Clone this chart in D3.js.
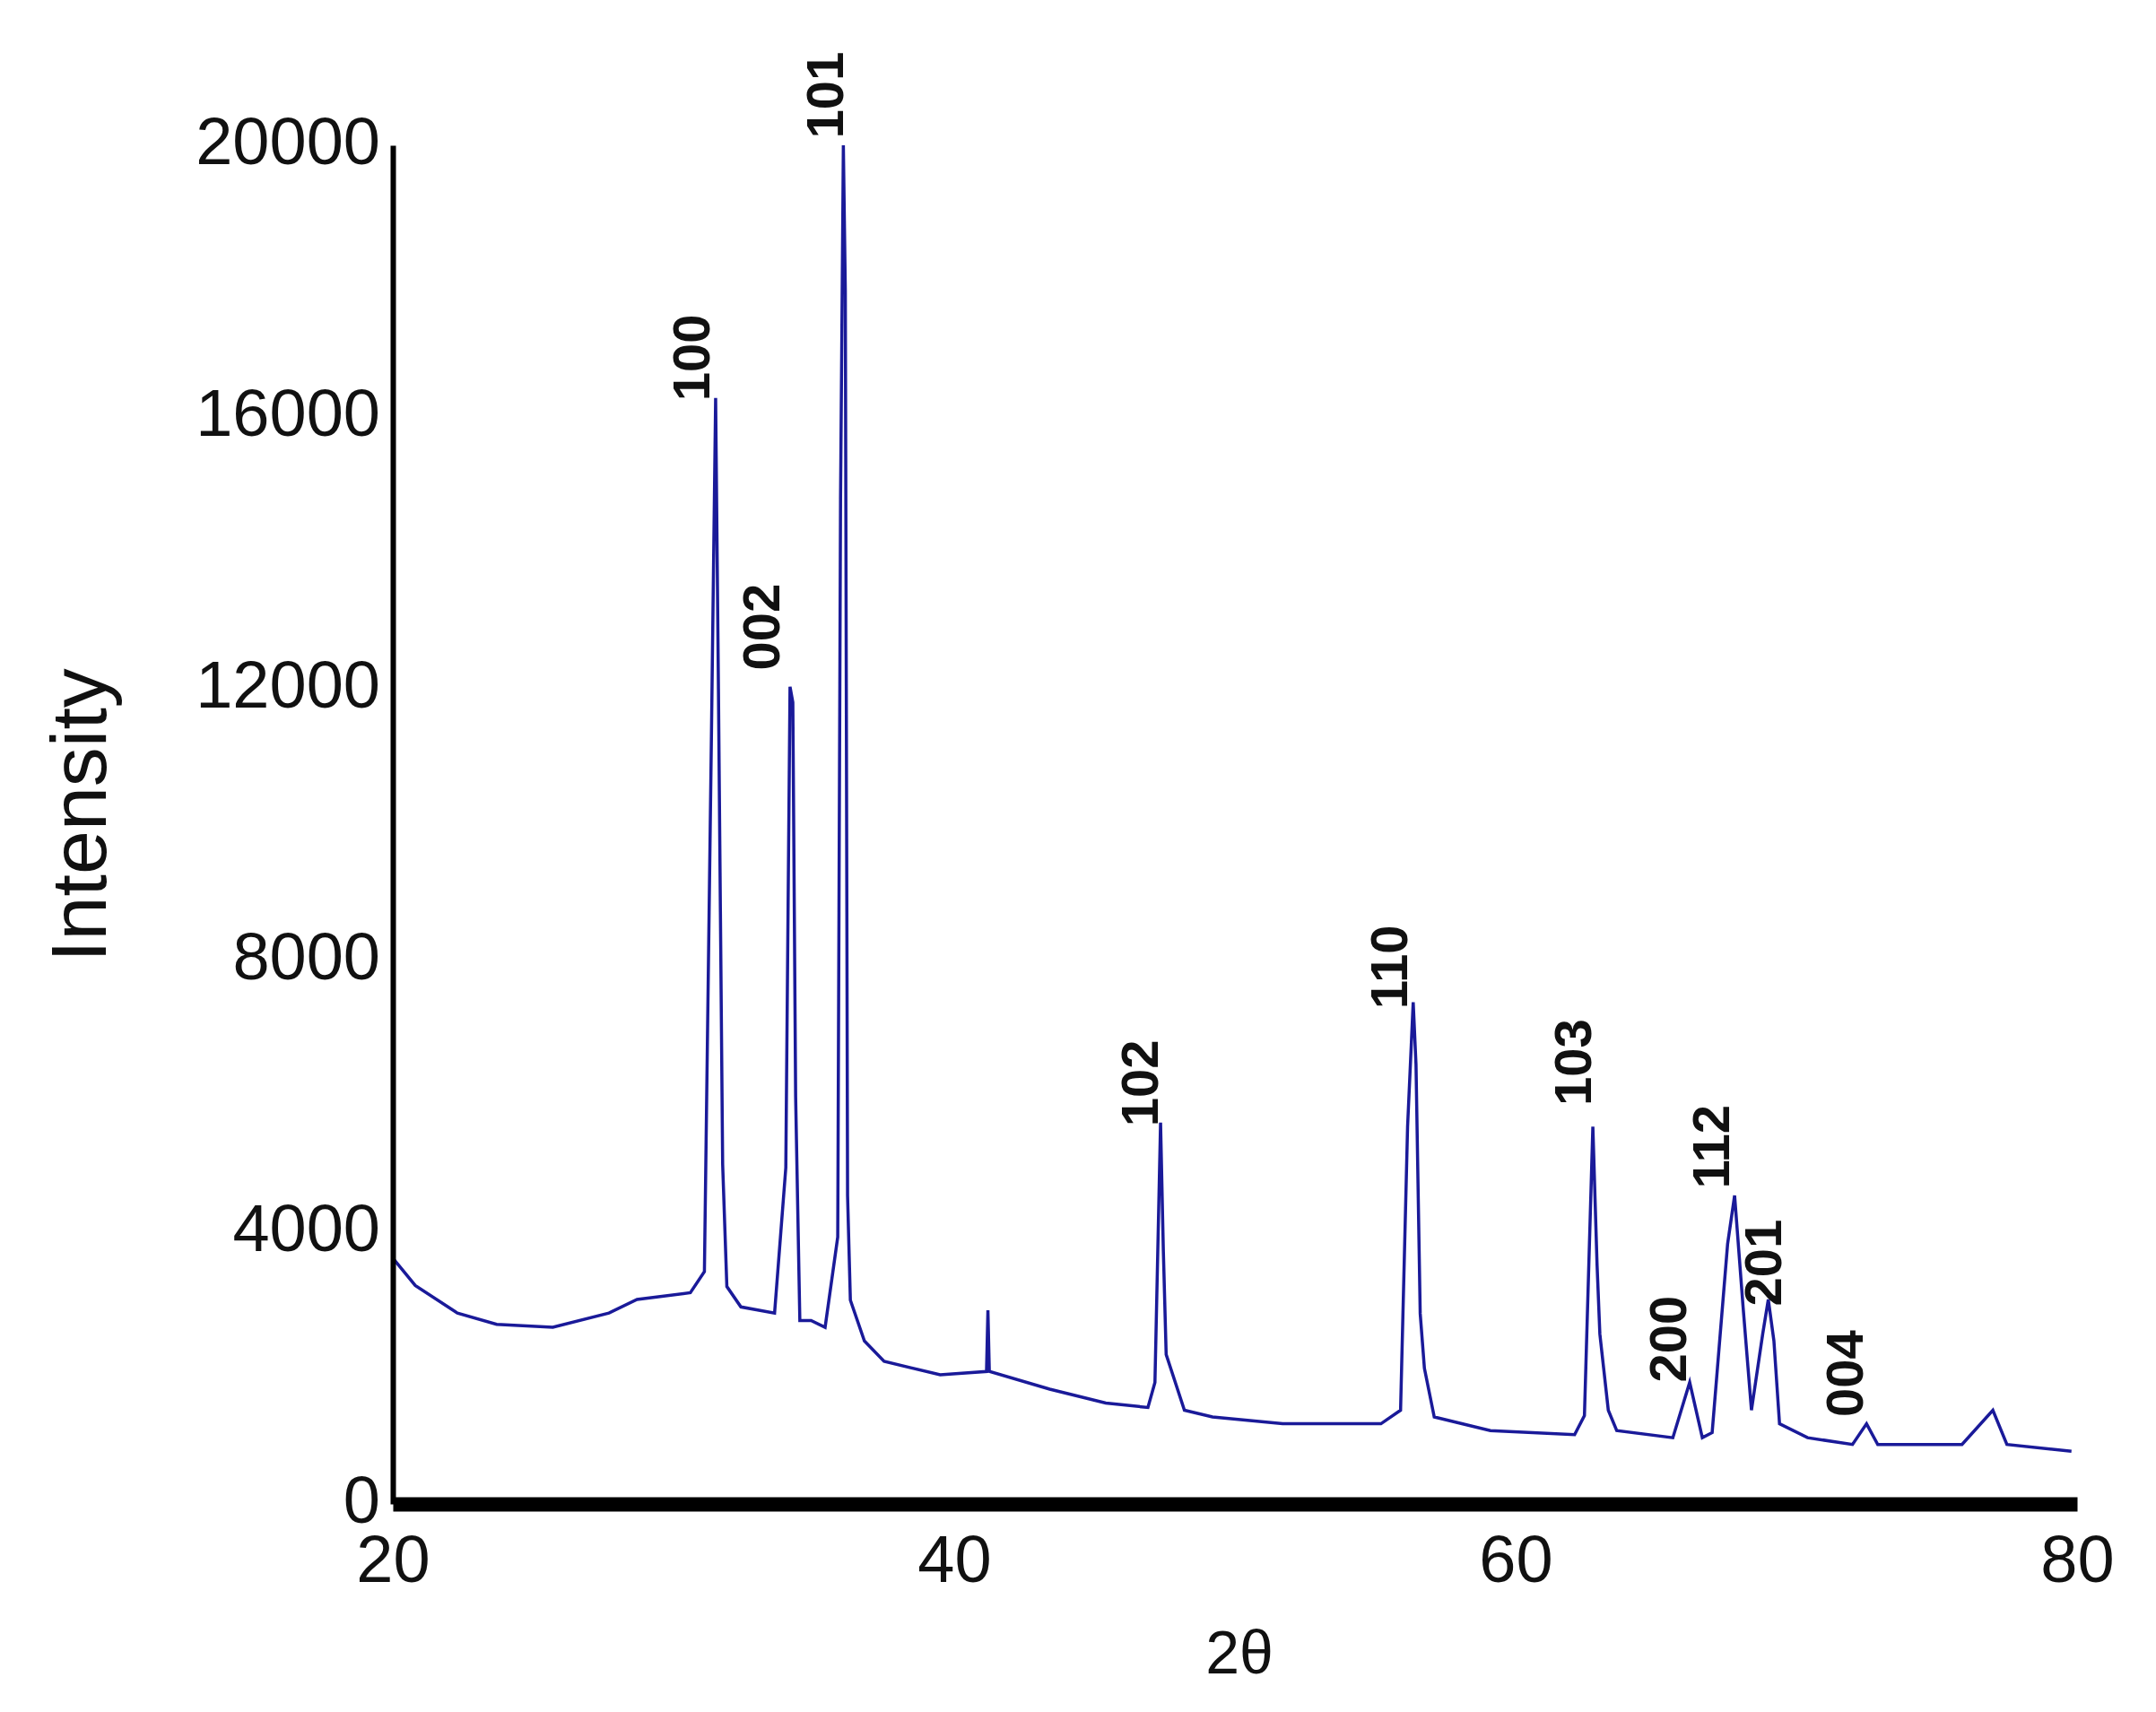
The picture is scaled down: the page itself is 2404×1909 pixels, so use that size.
<!DOCTYPE html>
<html>
<head>
<meta charset="utf-8">
<script src="https://cdn.jsdelivr.net/npm/d3@7"></script>
<style>
  body { margin: 0; background: #fff; }
</style>
</head>
<body>
<div id="display"></div>
<script>
// diffraction pattern
const twoTheta = [20, 20.8, 22.3, 23.7, 25.7, 27.7, 28.7, 30.6, 31.1, 31.35, 31.5, 31.6, 31.75, 31.9, 32.4, 33.6, 34.0, 34.15, 34.25, 34.35, 34.5, 34.9, 35.4, 35.85, 35.95, 36.05, 36.12, 36.2, 36.3, 36.8, 37.5, 39.5, 41.15, 41.2, 41.25, 43.4, 45.4, 46.9, 47.15, 47.35, 47.45, 47.55, 48.2, 49.2, 51.7, 55.2, 55.9, 56.15, 56.35, 56.45, 56.6, 56.75, 57.1, 59.1, 62.1, 62.45, 62.75, 62.9, 63.0, 63.3, 63.6, 65.6, 66.2, 66.65, 67.0, 67.55, 67.8, 68.1, 68.4, 68.8, 69.0, 69.2, 69.4, 70.4, 72.0, 72.5, 72.9, 75.9, 77.0, 77.5, 79.8];
const intensity = [3620, 3215, 2810, 2645, 2600, 2810, 3010, 3110, 3420, 11300, 16280, 12000, 5000, 3200, 2900, 2810, 4950, 12030, 11800, 6000, 2700, 2700, 2600, 3930, 14800, 20000, 17860, 4540, 3000, 2400, 2100, 1900, 1950, 2850, 1950, 1690, 1485, 1420, 1790, 5615, 3720, 2200, 1380, 1280, 1180, 1180, 1380, 5555, 7385, 6470, 2800, 1995, 1280, 1080, 1020, 1300, 5555, 3520, 2500, 1380, 1080, 975, 1790, 975, 1050, 3825, 4540, 2910, 1380, 2500, 3010, 2400, 1180, 975, 875, 1180, 875, 875, 1380, 875, 775];

const peakLabels = ["100", "101", "002", "102", "110", "103", "200", "112", "201", "004"];
const labelTheta = [30.63, 35.40, 33.14, 46.62, 55.48, 62.03, 65.42, 66.95, 68.82, 71.72];
const labelIntensity = [16235, 20100, 12270, 5555, 7285, 5860, 1790, 4640, 2910, 1280];

const xTicks = [20, 40, 60, 80];
const yTicks = [0, 4000, 8000, 12000, 16000, 20000];

const width = 2404, height = 1909;
const mLeft = 438, mRight = 2316, mTop = 162, mBottom = 1677;

const x = d3.scaleLinear().domain([20, 80]).range([mLeft, mRight]);
const y = d3.scaleLinear().domain([0, 20000]).range([mBottom, mTop]);

const svg = d3.select('#display').append('svg')
  .attr('width', width).attr('height', height);

const pts = twoTheta.map((t, i) => [t, intensity[i]]);
svg.append('path')
  .attr('d', d3.line().x(d => x(d[0])).y(d => y(d[1]))(pts))
  .attr('fill', 'none')
  .attr('stroke', '#1a1a99')
  .attr('stroke-width', 3.5);

// axes
const xAxis = svg.append('g').attr('transform', `translate(0,${mBottom})`)
  .call(d3.axisBottom(x).tickValues(xTicks).tickSize(0).tickPadding(34));
xAxis.select('.domain').attr('stroke', '#000').attr('stroke-width', 16);
xAxis.selectAll('text').attr('font-family', '"Liberation Sans Narrow", "Liberation Sans", sans-serif')
  .attr('font-size', 74).attr('fill', '#111');

const yAxis = svg.append('g').attr('transform', `translate(${mLeft},0)`)
  .call(d3.axisLeft(y).tickValues(yTicks).tickSize(0).tickPadding(14).tickFormat(d3.format('d')));
yAxis.select('.domain').attr('stroke', '#000').attr('stroke-width', 6);
yAxis.selectAll('text').attr('font-family', '"Liberation Sans Narrow", "Liberation Sans", sans-serif')
  .attr('font-size', 74).attr('fill', '#111').attr('dy', '0.28em');

// peak indices
svg.selectAll('.hkl').data(peakLabels).enter().append('text')
  .attr('class', 'hkl')
  .attr('transform', (d, i) => `translate(${x(labelTheta[i]) + 20},${y(labelIntensity[i])}) rotate(-90)`)
  .attr('font-family', '"Liberation Sans", Arial, sans-serif')
  .attr('font-weight', 'bold')
  .attr('font-size', 58)
  .attr('fill', '#111')
  .text(d => d);

svg.append('text')
  .attr('transform', `translate(118,909) rotate(-90)`)
  .attr('text-anchor', 'middle')
  .attr('font-family', '"Liberation Sans", Arial, sans-serif')
  .attr('font-size', 88).attr('fill', '#111')
  .text('Intensity');

svg.append('text')
  .attr('x', 1382).attr('y', 1866)
  .attr('text-anchor', 'middle')
  .attr('font-family', '"Liberation Sans Narrow", "Liberation Sans", sans-serif')
  .attr('font-size', 68).attr('fill', '#111')
  .text('2θ');
</script>
</body>
</html>
